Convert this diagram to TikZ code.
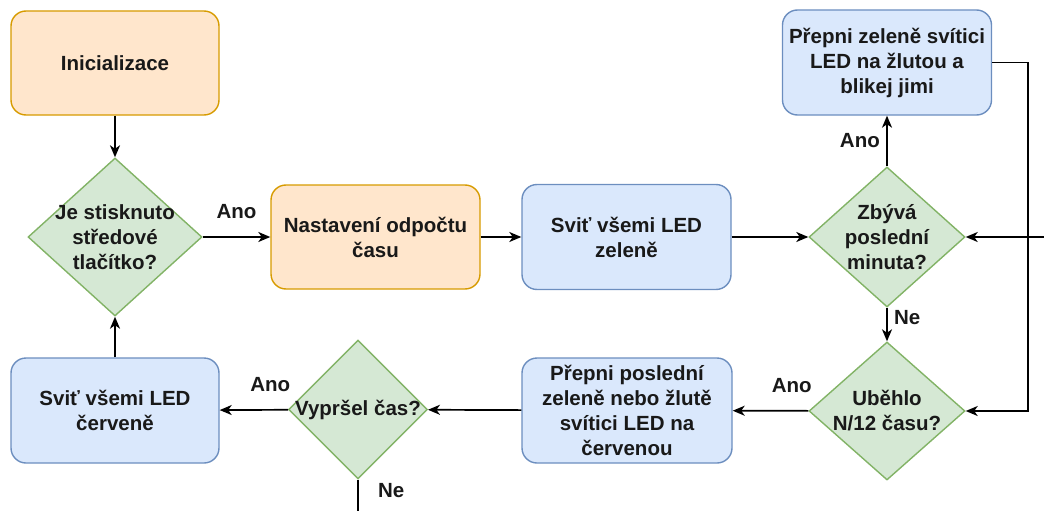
\documentclass[tikz,border=0pt]{standalone}
\usepackage{fontspec}
\setmainfont{Liberation Sans}
\usepackage{tikz}
\usetikzlibrary{positioning}
\usetikzlibrary{arrows.meta}
\usetikzlibrary{shapes.geometric}
\definecolor{orfill}{HTML}{FFE6CC}
\definecolor{ordraw}{HTML}{D79B00}
\definecolor{blfill}{HTML}{DAE8FC}
\definecolor{bldraw}{HTML}{6C8EBF}
\definecolor{grfill}{HTML}{D5E8D4}
\definecolor{grdraw}{HTML}{82B366}
\tikzset{
  txt/.style={font=\fontsize{20.5}{25}\selectfont\bfseries, align=center, text=black!90},
  startbox/.style={txt, rectangle, rounded corners=15pt, draw=ordraw, fill=orfill, line width=1.4pt, minimum width=208pt, minimum height=104pt},
  procbox/.style={txt, rectangle, rounded corners=15pt, draw=bldraw, fill=blfill, line width=1.4pt, minimum width=209pt, minimum height=105pt},
  decision/.style={diamond, draw=grdraw, fill=grfill, line width=1.4pt, inner sep=0pt},
  lbl/.style={txt},
  conn/.style={line width=1.7pt, -{Stealth[length=12pt,width=10pt,inset=3.5pt]}}
}
\begin{document}
\begin{tikzpicture}[x=1pt,y=-1pt]
\useasboundingbox (0,0) rectangle (1044,511);
% upper row
\node [startbox] (init) at (115,63) {Inicializace};
\node [decision, minimum width=174pt, minimum height=158pt, label={[txt]center:Je stisknuto\\středové\\tlačítko?}] (stisk) at (115,237) {};
\node [startbox, minimum width=209pt] (odpocet) at (375.5,237) {Nastavení odpočtu\\času};
\node [procbox] (zelene) at (626.5,237) {Sviť všemi LED\\zeleně};
\node [decision, minimum width=156pt, minimum height=140pt, label={[txt]center:Zbývá\\poslední\\minuta?}] (minuta) at (887,237) {};
\node [procbox] (zluta) at (887,62.5) {Přepni zeleně svítici\\LED na žlutou a\\blikej jimi};
% lower row
\node [decision, minimum width=156pt, minimum height=138pt, label={[txt]center:Uběhlo\\N/12 času?}] (dvanact) at (887,411) {};
\node [procbox, minimum width=210pt] (cervena) at (627,410.5) {Přepni poslední\\zeleně nebo žlutě\\svítici LED na\\červenou};
\node [decision, minimum width=139pt, minimum height=139pt, label={[txt]center:Vypršel čas?}] (vyprsel) at (358,409.5) {};
\node [procbox, minimum width=208pt] (vsecerv) at (115,410.5) {Sviť všemi LED\\červeně};
\coordinate (vstup) at (1044,237);
\coordinate (konec) at (358,511);
% connectors
\draw [conn] (init)--(stisk);
\draw [conn] (stisk)--(odpocet) node [lbl, midway, above=14pt] {Ano};
\draw [conn] (odpocet)--(zelene);
\draw [conn] (zelene)--(minuta);
\draw [conn] (minuta)--(zluta) node [lbl, midway, left=3pt] {Ano};
\draw [conn] (minuta)--(dvanact) node [lbl, pos=0.3, right=3pt] {Ne};
\draw [conn] (vstup)--(minuta.east);
\draw [conn] (zluta.east)--++(35.5,0) |- (dvanact.east);
\draw [conn] (dvanact)--(cervena) node [lbl, pos=0.22, above=14pt] {Ano};
\draw [conn] (cervena)--(vyprsel);
\draw [conn] (vyprsel)--(vsecerv) node [lbl, pos=0.26, above=14pt] {Ano};
\draw [line width=1.7pt] (vyprsel.south)--(konec) node [lbl, pos=0.35, right=16pt] {Ne};
\draw [conn] (vsecerv)--(stisk);
\end{tikzpicture}
\end{document}
